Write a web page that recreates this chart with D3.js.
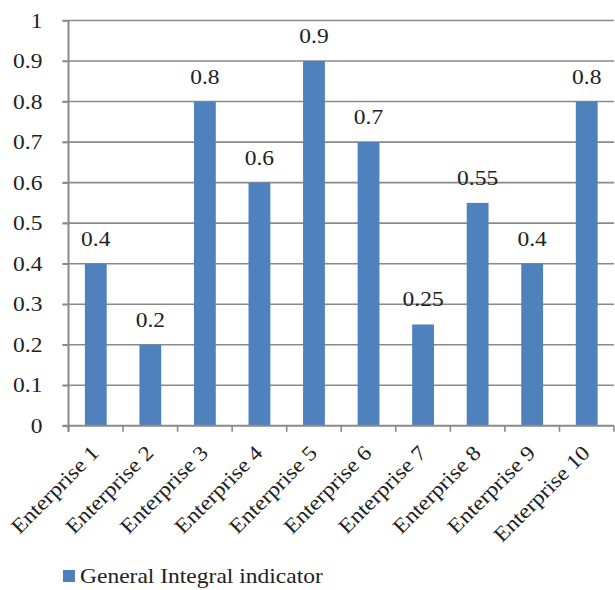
<!DOCTYPE html>
<html>
<head>
<meta charset="utf-8">
<script src="https://cdn.jsdelivr.net/npm/d3@7"></script>
<style>
  body { margin: 0; background: #fff; }
  svg text { font-family: "Liberation Serif"; fill: #222; }
</style>
</head>
<body>
<div id="chart"></div>
<script>
const categories = ["Enterprise 1", "Enterprise 2", "Enterprise 3", "Enterprise 4", "Enterprise 5",
  "Enterprise 6", "Enterprise 7", "Enterprise 8", "Enterprise 9", "Enterprise 10"]
const values = [0.4, 0.2, 0.8, 0.6, 0.9, 0.7, 0.25, 0.55, 0.4, 0.8]
const yTicks = [0, 0.1, 0.2, 0.3, 0.4, 0.5, 0.6, 0.7, 0.8, 0.9, 1]
const seriesName = "General Integral indicator"

const width = 615, height = 590
const plotLeft = 68.5, plotRight = 614, plotTop = 20.5, plotBottom = 425.8
const fontSize = 21
const stretch = "scale(1.12,1)"

const svg = d3.select("#chart").append("svg")
  .attr("width", width)
  .attr("height", height)

const x = d3.scaleBand().domain(categories).range([plotLeft, plotRight]).paddingInner(0.6).paddingOuter(0.3)
const y = d3.scaleLinear().domain([0, 1]).range([plotBottom, plotTop])

// gridlines
svg.append("g").selectAll("line")
  .data(yTicks.filter(d => d > 0))
  .enter().append("line")
    .attr("x1", plotLeft - 6).attr("x2", plotRight)
    .attr("y1", d => y(d)).attr("y2", d => y(d))
    .attr("stroke", "#8a8a8a").attr("stroke-width", 1.6)

// y tick labels
const yAxis = d3.axisLeft(y).tickValues(yTicks).tickFormat(d3.format("")).tickSize(6).tickPadding(20)
const gy = svg.append("g").attr("transform", `translate(${plotLeft},0)`).call(yAxis)
gy.attr("font-family", null)
gy.select(".domain").remove()
gy.selectAll(".tick line").attr("stroke", "#8a8a8a").attr("stroke-width", 1.6)
gy.selectAll(".tick text")
  .attr("font-size", fontSize)
  .attr("fill", "#222")
  .attr("dy", "0.32em")
  .each(function() {
    const t = d3.select(this)
    const xx = +t.attr("x")
    t.attr("x", null).attr("transform", `translate(${xx},0) ${stretch}`)
  })

// bars
svg.append("g").selectAll("rect")
  .data(values)
  .enter().append("rect")
    .attr("x", (d, i) => x(categories[i]))
    .attr("width", x.bandwidth())
    .attr("y", d => y(d))
    .attr("height", d => y(0) - y(d))
    .attr("fill", "#4f81bd")

// data labels
svg.append("g").selectAll("text")
  .data(values)
  .enter().append("text")
    .attr("transform", (d, i) => `translate(${x(categories[i]) + x.bandwidth() / 2},${y(d) - 18}) ${stretch}`)
    .attr("text-anchor", "middle")
    .attr("font-size", fontSize)
    .text(d => d)

// x axis
const xAxis = d3.axisBottom(x).tickSize(0).tickFormat(d => d)
const gx = svg.append("g").attr("transform", `translate(0,${plotBottom})`).call(xAxis)
gx.select(".domain").attr("d", `M${plotLeft - 6},0H${plotRight}`).attr("stroke", "#8a8a8a").attr("stroke-width", 2)
gx.selectAll(".tick text").remove()
// category boundary ticks
const bounds = d3.range(categories.length + 1).map(i => plotLeft + i * x.step())
gx.selectAll(".bound").data(bounds).enter().append("line")
  .attr("class", "bound")
  .attr("x1", d => d).attr("x2", d => d)
  .attr("y1", 0).attr("y2", 6)
  .attr("stroke", "#8a8a8a").attr("stroke-width", 1.6)

// y axis line
svg.append("line")
  .attr("x1", plotLeft).attr("x2", plotLeft)
  .attr("y1", plotTop).attr("y2", plotBottom + 6)
  .attr("stroke", "#8a8a8a").attr("stroke-width", 2)

// rotated category labels
svg.append("g").selectAll("text")
  .data(categories)
  .enter().append("text")
    .attr("transform", d => `translate(${x(d) + x.bandwidth() / 2 - 6},${plotBottom + 18}) rotate(-45) ${stretch}`)
    .attr("text-anchor", "end")
    .attr("dy", "0.7em")
    .attr("font-size", fontSize)
    .text(d => d)

// legend
const lg = svg.append("g").attr("transform", "translate(63,570)")
lg.append("rect").attr("width", 12).attr("height", 12).attr("fill", "#4f81bd")
lg.append("text")
  .attr("transform", `translate(17,13) ${stretch}`)
  .attr("font-size", fontSize)
  .text(seriesName)
</script>
</body>
</html>
